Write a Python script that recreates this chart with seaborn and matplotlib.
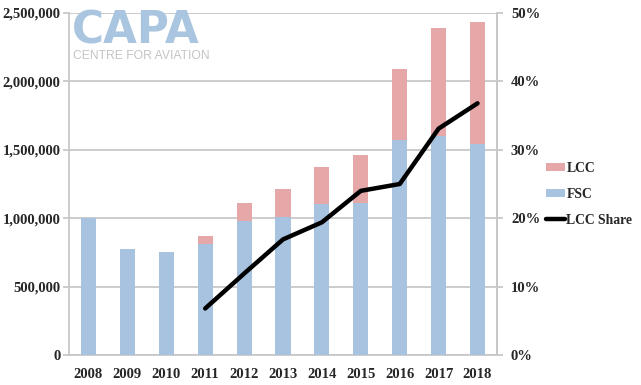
import numpy as np
import pandas as pd
import matplotlib
matplotlib.use("Agg")
import matplotlib.pyplot as plt
import seaborn as sns
from matplotlib.patches import Patch
from matplotlib.lines import Line2D
from matplotlib.ticker import FuncFormatter, MultipleLocator

years = ["2008", "2009", "2010", "2011", "2012", "2013", "2014", "2015", "2016", "2017", "2018"]
fsc = [1000000, 775000, 753000, 814000, 977000, 1009000, 1105000, 1109000, 1572000, 1603000, 1542000]
lcc = [0, 0, 0, 56000, 134000, 204000, 270000, 353000, 519000, 787000, 892000]
share_years = ["2011", "2012", "2013", "2014", "2015", "2016", "2017", "2018"]
lcc_share = [6.8, 11.9, 16.9, 19.4, 24.0, 25.0, 33.1, 36.8]

sns.set_style("white")
plt.rcParams["font.family"] = ["Liberation Serif", "DejaVu Serif"]

BLUE = "#a7c3df"
PINK = "#e6a7a8"
GRID = "#c8c8c8"

df = pd.DataFrame({"year": years, "fsc": fsc, "lcc": lcc})
df["total"] = df["fsc"] + df["lcc"]

fig = plt.figure(figsize=(6.41, 3.85), dpi=100)
ax = fig.add_axes([69/641, 30/385, (497-69)/641, (355-13)/385])

sns.barplot(data=df, x="year", y="total", color=PINK, width=0.39, ax=ax,
            saturation=1, edgecolor="none", zorder=2)
sns.barplot(data=df, x="year", y="fsc", color=BLUE, width=0.39, ax=ax,
            saturation=1, edgecolor="none", zorder=3)

ax.set_ylim(0, 2500000)
ax.set_xlim(-0.5, len(years) - 0.5)
ax.yaxis.set_major_locator(MultipleLocator(500000))
ax.yaxis.set_major_formatter(FuncFormatter(lambda v, p: f"{int(v):,}"))
ax.grid(axis="y", color=GRID, linewidth=1.3, zorder=0)
ax.set_axisbelow(True)
ax.set_xlabel("")
ax.set_ylabel("")
ax.spines["top"].set_visible(False)
for s in ["left", "bottom", "right"]:
    ax.spines[s].set_color(GRID)
    ax.spines[s].set_linewidth(1.3)
ax.tick_params(axis="y", length=4, color=GRID, width=1.3, labelsize=10.5, pad=2)
ax.tick_params(axis="x", length=0, labelsize=10.5, pad=9)
ax.set_xticks(np.arange(-0.5, len(years), 1.0), minor=True)
ax.tick_params(axis="x", which="minor", length=5, color=GRID, width=1.3)
for lab in ax.get_xticklabels() + ax.get_yticklabels():
    lab.set_fontweight("bold")

ax2 = ax.twinx()
pos = [years.index(y) for y in share_years]
sns.lineplot(x=pos, y=lcc_share, ax=ax2, color="black", linewidth=3.2, zorder=5)
ax2.set_ylim(0, 50)
ax2.yaxis.set_major_locator(MultipleLocator(10))
ax2.yaxis.set_major_formatter(FuncFormatter(lambda v, p: f"{int(v)}%"))
ax2.tick_params(axis="y", length=4, color=GRID, width=1.3, labelsize=10.5, pad=6)
for lab in ax2.get_yticklabels():
    lab.set_fontweight("bold")
for s in ["top", "left", "bottom"]:
    ax2.spines[s].set_visible(False)
ax2.spines["right"].set_color(GRID)
ax2.spines["right"].set_linewidth(1.3)
ax2.set_ylabel("")

# Watermark logo
fig.text(72/641, 1 - 43/385, "CAPA", fontsize=31.5, fontweight="heavy", color="#a9c5df",
         family=["DejaVu Sans"], va="baseline", ha="left")
fig.text(73/641, 1 - 59/385, "CENTRE FOR AVIATION", fontsize=8.7, color="#c4c4c4",
         family=["Liberation Sans", "DejaVu Sans"], va="baseline", ha="left")

handles = [Patch(facecolor=PINK, edgecolor="none"),
           Patch(facecolor=BLUE, edgecolor="none"),
           Line2D([0], [0], color="black", linewidth=3.2)]
leg = fig.legend(handles, ["LCC", "FSC", "LCC Share"], loc="upper left",
                 bbox_to_anchor=(546/641, 1 - 162/385), frameon=False, borderaxespad=0,
                 prop={"weight": "bold", "size": 9.8}, handlelength=1.4,
                 handleheight=0.55, handletextpad=0.1, labelspacing=0.95, borderpad=0)

fig.savefig("out.png", dpi=100)
